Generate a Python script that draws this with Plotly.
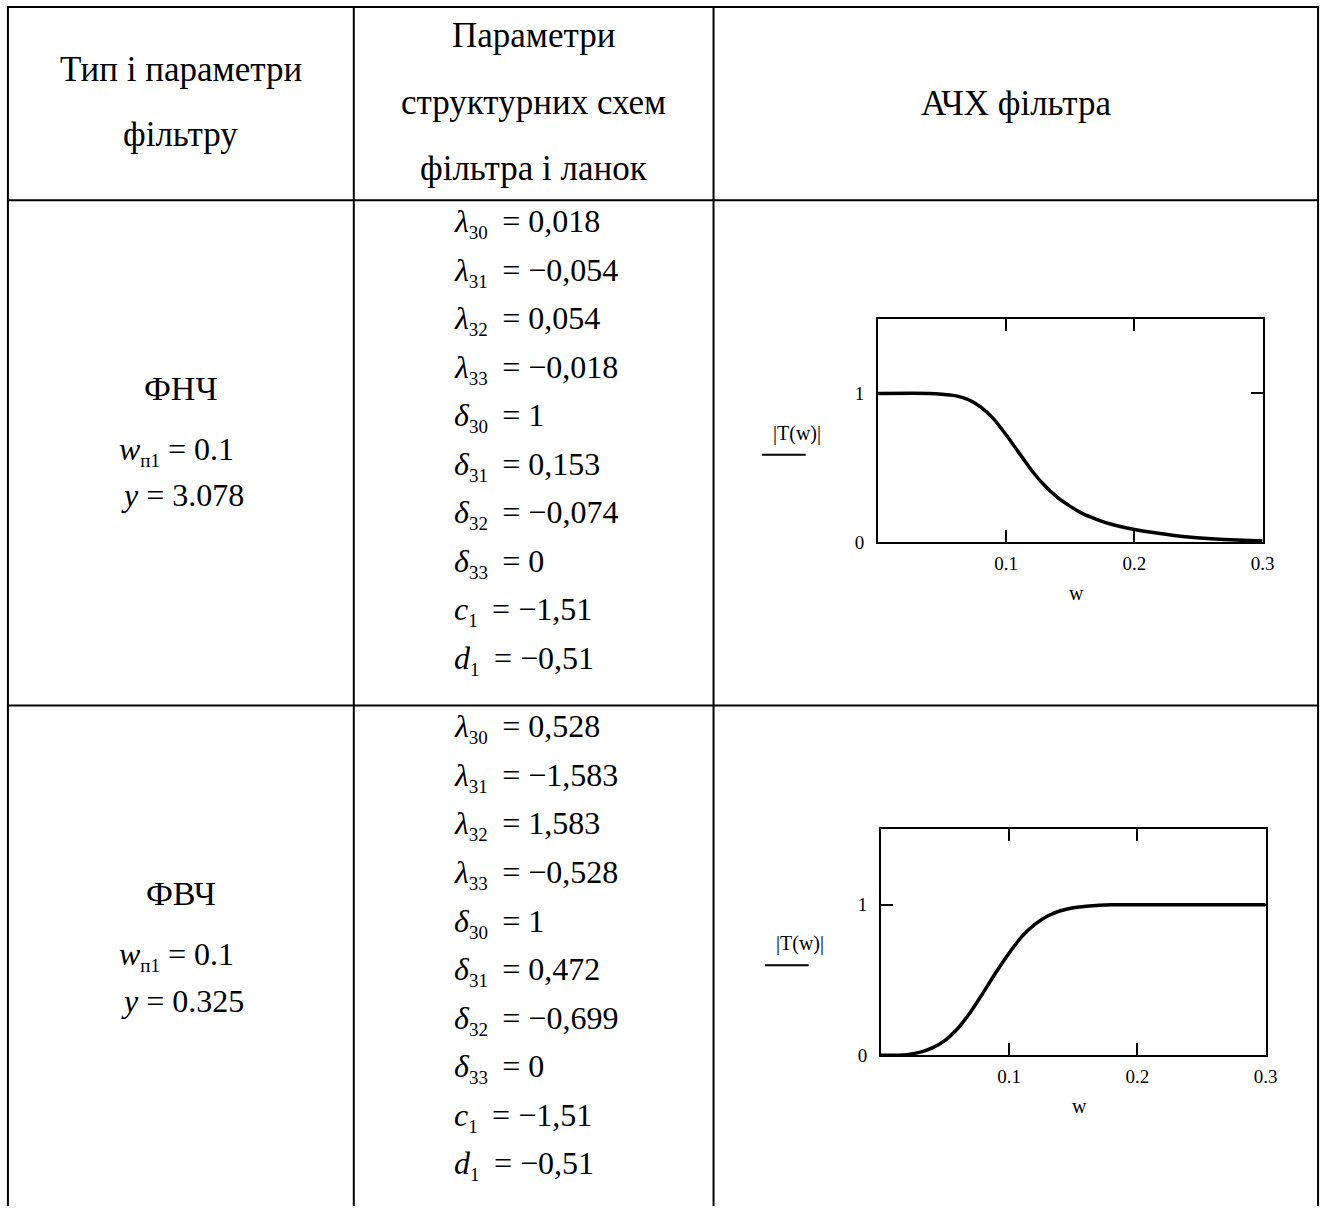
import plotly.graph_objects as go

W, H = 1336, 1217

# ---- table text -------------------------------------------------------
header_col1 = ["Тип і параметри", "фільтру"]
header_col2 = ["Параметри", "структурних схем", "фільтра і ланок"]
header_col3 = ["АЧХ фільтра"]

filter_types = ["ФНЧ", "ФВЧ"]
cutoff_w = ["0.1", "0.1"]
y_params = ["3.078", "0.325"]

# structural parameters of the filter and its sections
param_symbols = ["λ", "λ", "λ", "λ", "δ", "δ", "δ", "δ", "c", "d"]
param_subs = ["30", "31", "32", "33", "30", "31", "32", "33", "1", "1"]
lpf_values = ["0,018", "−0,054", "0,054", "−0,018", "1", "0,153",
              "−0,074", "0", "−1,51", "−0,51"]
hpf_values = ["0,528", "−1,583", "1,583", "−0,528", "1", "0,472",
              "−0,699", "0", "−1,51", "−0,51"]

# ---- magnitude responses |T(w)| ---------------------------------------
lpf_w = [0.0, 0.04, 0.05, 0.06, 0.07, 0.08, 0.09, 0.1, 0.11, 0.12, 0.13,
         0.14, 0.15, 0.16, 0.17, 0.18, 0.2, 0.22, 0.24, 0.26, 0.28, 0.3]
lpf_t = [1.0, 1.0, 0.995, 0.985, 0.96, 0.91, 0.83, 0.72, 0.6, 0.48, 0.38,
         0.3, 0.24, 0.19, 0.155, 0.125, 0.085, 0.058, 0.036, 0.022, 0.013,
         0.007]

hpf_w = [0.0, 0.02, 0.03, 0.04, 0.05, 0.06, 0.07, 0.08, 0.09, 0.1, 0.11,
         0.12, 0.13, 0.14, 0.15, 0.16, 0.18, 0.2, 0.3]
hpf_t = [0.0, 0.005, 0.02, 0.05, 0.1, 0.18, 0.29, 0.42, 0.555, 0.68, 0.79,
         0.87, 0.925, 0.96, 0.98, 0.99, 1.0, 1.0, 1.0]

x_ticks = [0.1, 0.2, 0.3]
x_ticktext = ["0.1", "0.2", "0.3"]
y_ticks = [0, 1]
y_ticktext = ["0", "1"]

SERIF = "Liberation Serif, Times New Roman, serif"


def px(x):
    return x / W


def py(y):
    return 1 - y / H


fig = go.Figure()
annotations = []
shapes = []

# ---- table grid --------------------------------------------------------
LEFT, RIGHT, TOP = 8, 1330, 7
COL1, COL2 = 357, 720
ROW_H, ROW_1 = 202, 712
line = dict(color="black", width=2)
for x in (LEFT, COL1, COL2, RIGHT):
    shapes.append(dict(type="line", xref="paper", yref="paper",
                       x0=px(x), x1=px(x), y0=py(TOP - 1), y1=py(H), line=line))
for y in (TOP, ROW_H, ROW_1):
    shapes.append(dict(type="line", xref="paper", yref="paper",
                       x0=px(LEFT - 1), x1=px(RIGHT + 1), y0=py(y), y1=py(y), line=line))


def text(x, y, s, size, anchor="center"):
    annotations.append(dict(x=px(x), y=py(y), xref="paper", yref="paper",
                            text=s, showarrow=False, xanchor=anchor,
                            yanchor="middle",
                            font=dict(family=SERIF, size=size, color="black")))


def sub(s, size):
    return f'<sub><span style="font-size:{size}px">{s}</span></sub>'


# header row
HEAD = 35
c1x = (LEFT + COL1) / 2
c2x = (COL1 + COL2) / 2
c3x = (COL2 + RIGHT) / 2
for i, s in enumerate(header_col1):
    text(c1x, 70 + 66 * i, s, HEAD)
for i, s in enumerate(header_col2):
    text(c2x, 36 + 67 * i, s, HEAD)
text(c3x, 104, header_col3[0], HEAD)

# body rows
EQ = 32
SUB = 19
row_offsets = [0, 510]
value_sets = [lpf_values, hpf_values]
for r, off in enumerate(row_offsets):
    text(c1x, 392 + off, filter_types[r], 34)
    text(c1x - 4, 455 + off, f"<i>w</i>{sub('п1', SUB)} = {cutoff_w[r]}", EQ)
    text(c1x + 2, 500 + off, f"<i>y</i> = {y_params[r]}", EQ)
    for i, (sym, sb, val) in enumerate(zip(param_symbols, param_subs, value_sets[r])):
        text(456, 225 + 49 * i + off,
             f"<i>{sym}</i>{sub(sb, SUB)}\u2009 = {val}", EQ, anchor="left")

# ---- embedded response plots ------------------------------------------
plots = [
    dict(w=lpf_w, t=lpf_t, x0=886, x1=1274, y0=322, y1=547),
    dict(w=hpf_w, t=hpf_t, x0=889, x1=1277, y0=837, y1=1065),
]
for k, p in enumerate(plots, start=1):
    xa = "x" if k == 1 else f"x{k}"
    ya = "y" if k == 1 else f"y{k}"
    fig.add_trace(go.Scatter(x=p["w"], y=p["t"], mode="lines",
                             line=dict(color="black", width=3.5, shape="spline",
                                       smoothing=0.6),
                             xaxis=xa, yaxis=ya, hoverinfo="skip"))
    axis_common = dict(showline=True, linewidth=2, linecolor="black",
                       mirror="ticks", ticks="inside", ticklen=12,
                       tickwidth=2, tickcolor="black", showgrid=False,
                       zeroline=False,
                       tickfont=dict(family=SERIF, size=19, color="black"))
    xname = "xaxis" if k == 1 else f"xaxis{k}"
    yname = "yaxis" if k == 1 else f"yaxis{k}"
    fig.layout[xname] = dict(axis_common, domain=[px(p["x0"]), px(p["x1"])],
                             range=[0, 0.3], tickvals=x_ticks,
                             ticktext=x_ticktext, anchor=ya,
                             ticklabelstandoff=3)
    fig.layout[yname] = dict(axis_common, domain=[py(p["y1"]), py(p["y0"])],
                             range=[0, 1.5], tickvals=y_ticks,
                             ticktext=y_ticktext, anchor=xa,
                             ticklabelstandoff=8)
    # axis captions
    text((p["x0"] + p["x1"]) / 2 + 6, p["y1"] + 51, "w", 20)
    text(p["x0"] - 82, p["y0"] + 115, "|T(w)|", 20)
    shapes.append(dict(type="line", xref="paper", yref="paper",
                       x0=px(p["x0"] - 117), x1=px(p["x0"] - 73),
                       y0=py(p["y0"] + 137), y1=py(p["y0"] + 137),
                       line=dict(color="black", width=2)))

fig.update_layout(width=W, height=H, margin=dict(l=0, r=0, t=0, b=0),
                  paper_bgcolor="white", plot_bgcolor="white",
                  showlegend=False, annotations=annotations, shapes=shapes)

fig.write_html("out.html", config={"displayModeBar": False})
